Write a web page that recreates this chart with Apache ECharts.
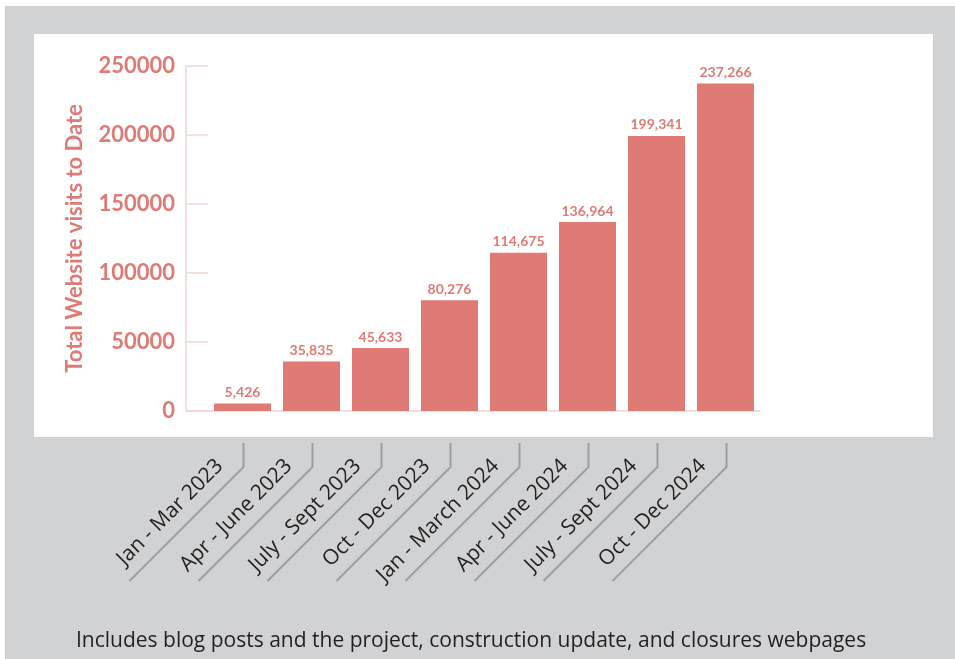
<!DOCTYPE html>
<html>
<head>
<meta charset="utf-8">
<style>
    html, body { margin: 0; padding: 0; background: #ffffff; }
    #main { width: 955px; height: 659px; }
</style>
</head>
<body>
<div id="main"></div>
<script src="https://cdn.jsdelivr.net/npm/echarts@6/dist/echarts.min.js"></script>
<script type="text/javascript">
    // 数据
    var categories = ['Jan - Mar 2023', 'Apr - June 2023', 'July - Sept 2023', 'Oct - Dec 2023',
        'Jan - March 2024', 'Apr - June 2024', 'July - Sept 2024', 'Oct - Dec 2024'];
    var visits = [5426, 35835, 45633, 80276, 114675, 136964, 199341, 237266];
    var yTicks = [0, 50000, 100000, 150000, 200000, 250000];

    var pink = '#e07a74';
    var lightPink = '#f5d4d2';
    var grey = '#d1d2d4';

    var myChart = echarts.init(document.getElementById('main'));
    var option = {
        backgroundColor: '#ffffff',
        animation: false,
        title: {
            text: 'Includes blog posts and the project, construction update, and closures webpages',
            left: 71,
            top: 626,
            textStyle: {
                fontFamily: 'Open Sans',
                fontWeight: 'normal',
                fontSize: 21,
                color: '#231f20'
            }
        },
        graphic: [
            {type: 'rect', z: -10, silent: true, shape: {x: 5, y: 6, width: 950, height: 653}, style: {fill: grey}},
            {type: 'rect', z: -9, silent: true, shape: {x: 34, y: 34, width: 899, height: 403}, style: {fill: '#ffffff'}},
            {type: 'line', z: 5, silent: true, shape: {x1: 186, y1: 411, x2: 208, y2: 411}, style: {stroke: lightPink, lineWidth: 1.5}}
        ],
        grid: {
            left: 208,
            right: 195,
            top: 66,
            bottom: 248
        },
        xAxis: {
            type: 'category',
            data: categories,
            axisLine: {show: true, lineStyle: {color: lightPink, width: 1.5}},
            axisTick: {show: false},
            axisLabel: {
                interval: 0,
                rotate: 45,
                margin: 56,
                formatter: function (v) { return '{t|' + v + '}'; },
                rich: {
                    t: {
                        padding: [0, 13, 38, 0],
                        fontFamily: 'Open Sans',
                        fontSize: 21,
                        color: '#231f20'
                    }
                }
            }
        },
        yAxis: {
            type: 'value',
            min: yTicks[0],
            max: yTicks[yTicks.length - 1],
            interval: 50000,
            offset: 22,
            name: 'Total Website visits to Date',
            nameLocation: 'middle',
            nameGap: 100,
            nameTextStyle: {
                fontFamily: 'Lato',
                fontWeight: 'bold',
                fontSize: 22,
                color: pink
            },
            axisLine: {show: true, lineStyle: {color: lightPink, width: 1.5}},
            axisTick: {show: true, inside: true, length: 22, lineStyle: {color: lightPink, width: 1.5}},
            splitLine: {show: false},
            axisLabel: {
                margin: 11,
                fontFamily: 'Lato',
                fontWeight: 'bold',
                fontSize: 22,
                color: pink,
                formatter: function (v) { return String(v); }
            }
        },
        series: [
            {
                name: 'visits',
                type: 'bar',
                barWidth: 57,
                data: visits,
                itemStyle: {color: pink},
                label: {
                    show: true,
                    position: 'top',
                    distance: 4,
                    fontFamily: 'Lato',
                    fontWeight: 'bold',
                    fontSize: 14,
                    color: pink,
                    formatter: function (p) { return p.value.toLocaleString('en-US'); }
                }
            },
            {
                // 标签下方的引导线
                name: 'leaders',
                type: 'custom',
                silent: true,
                clip: false,
                data: categories.map(function (c, i) { return [i, 0]; }),
                renderItem: function (params, api) {
                    var p = api.coord([api.value(0), 0]);
                    var x = p[0] + 1;
                    return {
                        type: 'polyline',
                        shape: {points: [[x, p[1] + 32], [x, p[1] + 56], [x - 114, p[1] + 170]]},
                        style: {stroke: '#9d9ea0', lineWidth: 2, fill: null}
                    };
                }
            }
        ]
    };

    // 为echarts对象加载数据
    myChart.setOption(option);
</script>
</body>
</html>
